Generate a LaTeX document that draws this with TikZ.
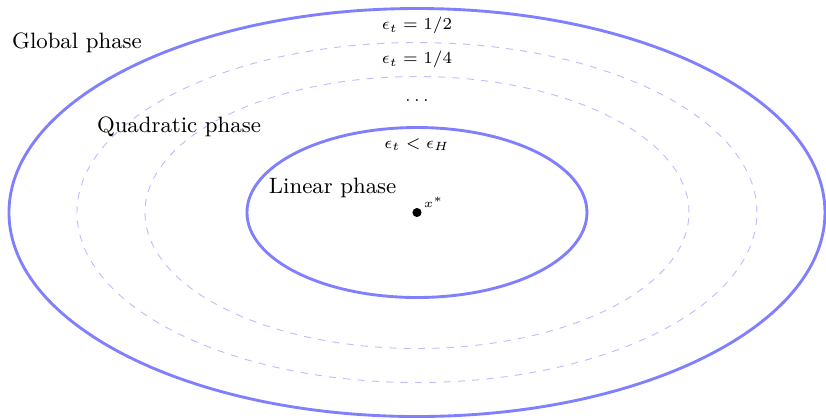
\documentclass[tikz,border=0pt]{standalone}
\begin{document}
\begin{tikzpicture}[
  solidring/.style={draw=blue!50, very thick},
  dashring/.style={draw=blue!25, thin, dashed},
  phase/.style={inner sep=0pt, font=\fontsize{9.3}{11}\selectfont},
  eps/.style={inner sep=0pt, font=\scriptsize}
]
\useasboundingbox (-6.132,-3.022) rectangle (6.015,3.125);
\draw[solidring] (0,0) ellipse [x radius=6, y radius=3];
\draw[dashring] (0,0) ellipse [x radius=5, y radius=2.5];
\draw[dashring] (0,0) ellipse [x radius=4, y radius=2];
\draw[solidring] (0,0) ellipse [x radius=2.5, y radius=1.25];
\node[phase] (global) at (-5,2.5) {Global phase};
\node[phase] (quad) at (-3.5,1.26) {Quadratic phase};
\node[phase] (lin) at (-1.24,0.36) {Linear phase};
\node[eps] (e1) at (0,2.75) {$\epsilon_t = 1/2$};
\node[eps] (e2) at (0,2.25) {$\epsilon_t = 1/4$};
\node[eps] (e3) at (0,1.65) {$\dots$};
\node[eps] (e4) at (0,1.0) {$\epsilon_t < \epsilon_H$};
\fill (0,0) circle [radius=1.9pt];
\node[font=\tiny, anchor=south west, inner sep=1pt] (xs) at (0.06,0.03) {$x^*$};
\end{tikzpicture}
\end{document}
